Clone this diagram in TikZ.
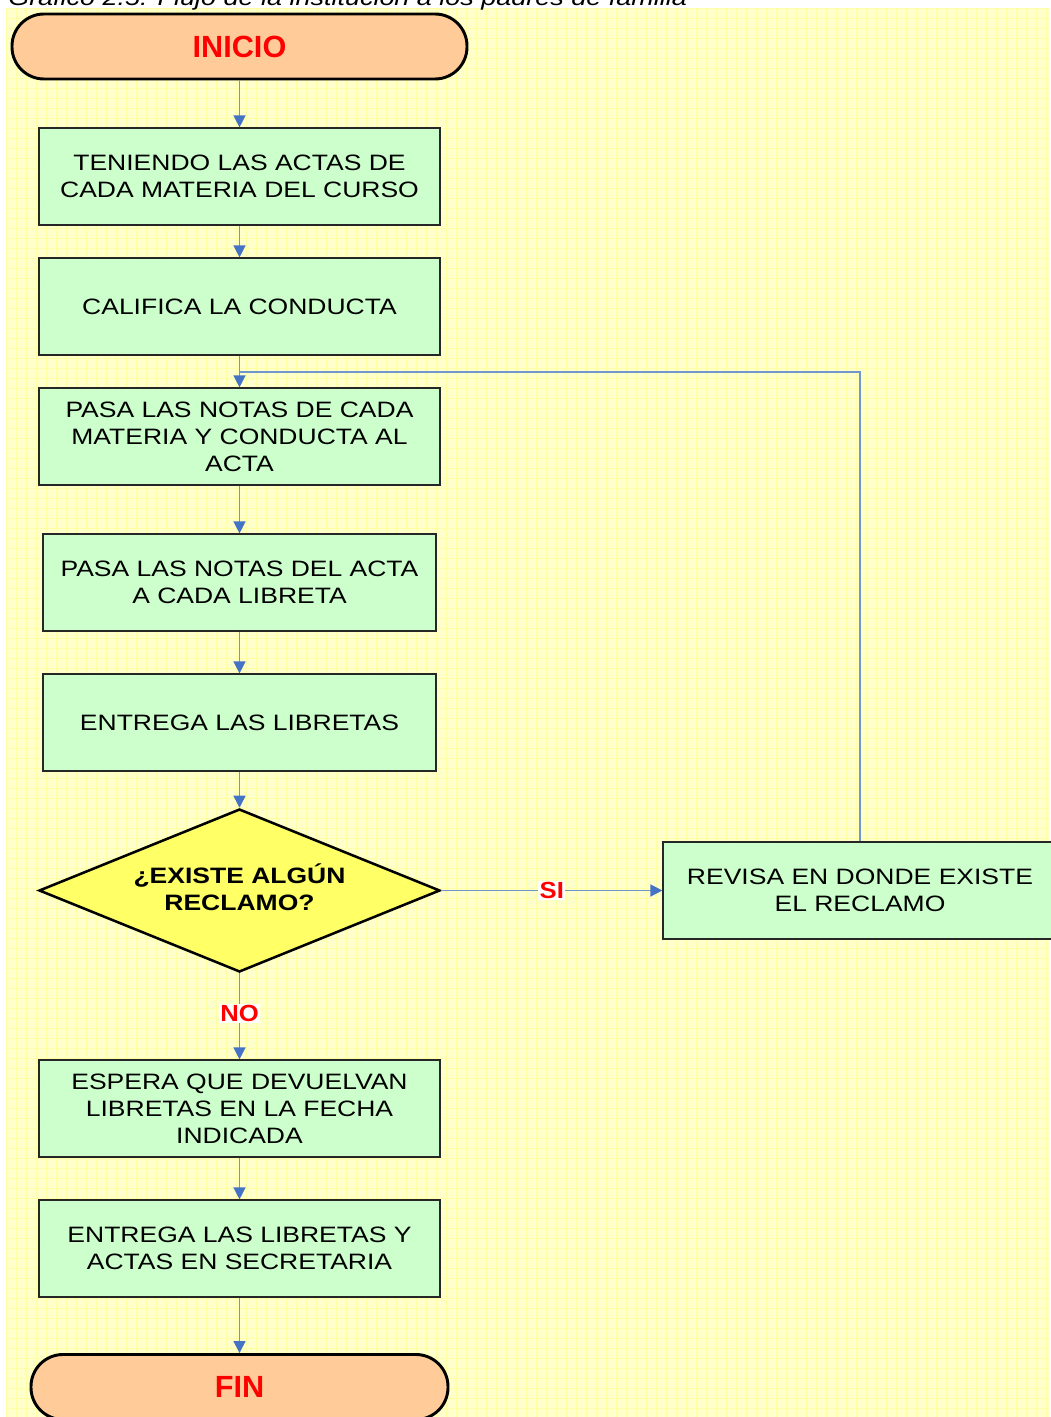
\documentclass[tikz,border=0pt]{standalone}
\usepackage{fontspec}
\setmainfont{Liberation Sans}
\newfontfamily\bodyfont[FakeStretch=1.19]{Liberation Sans}
\newfontfamily\labfont[FakeStretch=1.1]{Liberation Sans}
\usetikzlibrary{arrows.meta,shapes.geometric}
\definecolor{bgyellow}{HTML}{FFFFCC}
\definecolor{gridyellow}{HTML}{FFFFA6}
\definecolor{boxgreen}{HTML}{CCFFCC}
\definecolor{termorange}{HTML}{FFCC99}
\definecolor{diayellow}{HTML}{FFFF66}
\definecolor{conblue}{HTML}{7096CC}
\definecolor{tipblue}{HTML}{4472C4}
\definecolor{labred}{HTML}{FF0000}
\tikzset{
  procbox/.style={draw=black!85, line width=0.9pt, fill=boxgreen, minimum width=300.75pt, minimum height=72.75pt, align=center, inner sep=0pt, font=\bodyfont\fontsize{16.7}{20.25}\selectfont},
  termbox/.style={draw=black, line width=2.2pt, fill=termorange, rounded corners=24pt, minimum height=48.75pt, inner sep=0pt, text=labred, font=\bfseries\fontsize{23}{26}\selectfont},
  decbox/.style={draw=black, line width=1.9pt, fill=diayellow, diamond, aspect=2.46, minimum width=300.75pt, minimum height=122.25pt, inner sep=0pt, align=center, font=\bodyfont\bfseries\fontsize{16.7}{20.25}\selectfont},
  conn/.style={draw=conblue, line width=1.1pt},
  arr/.style={conn, -{Triangle[length=9pt,width=9pt,color=tipblue]}},
  branchlab/.style={fill=white, inner sep=1pt, text=labred, font=\labfont\bfseries\fontsize{17.5}{20}\selectfont}
}
\begin{document}
\begin{tikzpicture}[x=0.75pt,y=-0.75pt]
\useasboundingbox (0,0) rectangle (1050,1417);
% background
\fill[white] (0,0) rectangle (1050,1417);
\fill[bgyellow] (6,8) rectangle (1050,1417);
\foreach \gx in {6,16,...,1046} {\draw[gridyellow, line width=0.5pt] (\gx,8) -- (\gx,1417);}
\foreach \gy in {8,18,...,1416} {\draw[gridyellow, line width=0.5pt] (6,\gy) -- (1050,\gy);}
% caption
\node[anchor=base west, inner sep=0pt, font=\bodyfont\itshape\fontsize{17}{20}\selectfont] (cap) at (8,5) {Gráfico 2.5: Flujo de la institución a los padres de familia};
% nodes
\node[termbox, minimum width=341.25pt] (ini) at (239.5,46.5) {INICIO};
\node[procbox] (b1) at (239.5,176.5) {TENIENDO LAS ACTAS DE\\CADA MATERIA DEL CURSO};
\node[procbox] (b2) at (239.5,306.5) {CALIFICA LA CONDUCTA};
\node[procbox] (b3) at (239.5,436.5) {PASA LAS NOTAS DE CADA\\MATERIA Y CONDUCTA AL\\ACTA};
\node[procbox, minimum width=294.75pt] (b4) at (239.5,582.5) {PASA LAS NOTAS DEL ACTA\\A CADA LIBRETA};
\node[procbox, minimum width=294.75pt] (b5) at (239.5,722.5) {ENTREGA LAS LIBRETAS};
\node[decbox] (dec) at (239.5,890.5) {¿EXISTE ALGÚN\\RECLAMO?\\[-15.75pt]};
\node[procbox, minimum width=295.5pt] (rev) at (860,890.5) {REVISA EN DONDE EXISTE\\EL RECLAMO};
\node[procbox] (b6) at (239.5,1108.5) {ESPERA QUE DEVUELVAN\\LIBRETAS EN LA FECHA\\INDICADA};
\node[procbox] (b7) at (239.5,1248.5) {ENTREGA LAS LIBRETAS Y\\ACTAS EN SECRETARIA};
\node[termbox, minimum width=312.75pt] (fin) at (239.5,1387) {FIN};
\coordinate (join) at (239.5,372);
% connectors
\draw[arr] (ini) -- (b1);
\draw[arr] (b1) -- (b2);
\draw[arr] (b2) -- (b3);
\draw[arr] (b3) -- (b4);
\draw[arr] (b4) -- (b5);
\draw[arr] (b5) -- (dec);
\draw[arr] (dec.east) -- node[branchlab, pos=0.5] (si) {SI} (rev.west);
\draw[arr] (dec.south) -- node[branchlab, pos=0.47] (no) {NO} (b6.north);
\draw[arr] (b6) -- (b7);
\draw[arr] (b7) -- (fin);
\draw[conn] (rev.north) |- (join);
\end{tikzpicture}
\end{document}
